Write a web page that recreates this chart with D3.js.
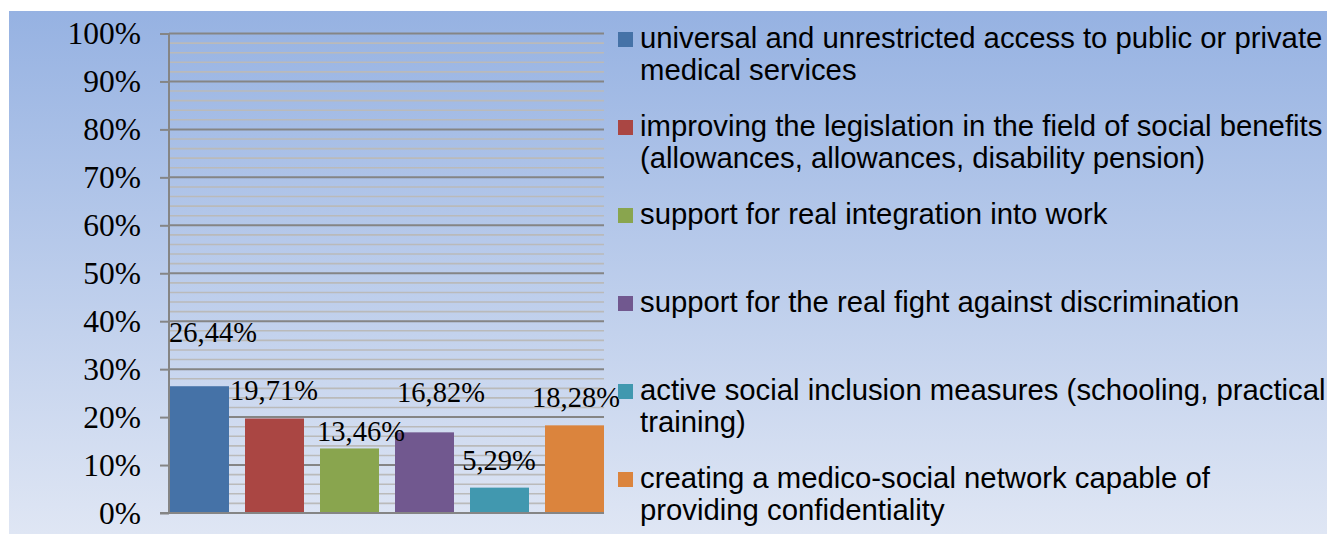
<!DOCTYPE html>
<html>
<head>
<meta charset="utf-8">
<script src="https://cdn.jsdelivr.net/npm/d3@7"></script>
<style>
  body { margin: 0; background: #fff; }
  svg { display: block; }
</style>
</head>
<body>
<div id="main"></div>
<script>
// categories (legend entries), values in %, bar colours
const categories = [
  ["universal and unrestricted access to public or private", "medical services"],
  ["improving the legislation in the field of social benefits", "(allowances, allowances, disability pension)"],
  ["support for real integration into work"],
  ["support for the real fight against discrimination"],
  ["active social inclusion measures (schooling, practical", "training)"],
  ["creating a medico-social network capable of", "providing confidentiality"]
];
const values = [26.44, 19.71, 13.46, 16.82, 5.29, 18.28];
const colors = ["#4572a7", "#aa4643", "#89a54e", "#71588f", "#4198af", "#db843d"];
const yTicks = [0, 10, 20, 30, 40, 50, 60, 70, 80, 90, 100];

// labels were dragged by hand in the original, small nudges from the default spot
const labelNudge = [[14, -26], [0, 0], [12, 11], [17, -12], [0, 0], [2, 0]];

const ctx = {
    width: 1327,
    height: 534,
    left: 169,
    right: 604,
    top: 33.5,
    bottom: 513
};

function createViz() {
    const svg = d3.select("#main").append("svg")
        .attr("width", ctx.width)
        .attr("height", ctx.height);

    // gradient background panel
    const grad = svg.append("defs").append("linearGradient")
        .attr("id", "bg").attr("x1", 0).attr("y1", 0).attr("x2", 0).attr("y2", 1);
    grad.append("stop").attr("offset", "0%").attr("stop-color", "#96b2e2");
    grad.append("stop").attr("offset", "100%").attr("stop-color", "#dfe6f4");

    svg.append("rect")
        .attr("x", 9).attr("y", 11)
        .attr("width", ctx.width - 9).attr("height", ctx.height - 11)
        .attr("fill", "url(#bg)");

    const x = d3.scaleBand()
        .domain(d3.range(values.length))
        .range([ctx.left, ctx.right])
        .paddingInner(0.2)
        .paddingOuter(0);

    const y = d3.scaleLinear()
        .domain([0, 100])
        .range([ctx.bottom, ctx.top]);

    // minor gridlines every 2%
    const minor = d3.range(0, 101, 2).filter(d => d % 10 != 0);
    svg.append("g").selectAll("line")
        .data(minor)
        .enter().append("line")
        .attr("x1", ctx.left).attr("x2", ctx.right)
        .attr("y1", d => y(d)).attr("y2", d => y(d))
        .attr("stroke", "#bababa")
        .attr("stroke-width", 1.6);

    // major gridlines + axis via d3.axisLeft
    const yAxis = svg.append("g")
        .attr("transform", "translate(" + ctx.left + ",0)")
        .call(d3.axisLeft(y)
            .tickValues(yTicks)
            .tickSize(9)
            .tickPadding(19)
            .tickFormat(d => d + "%"));
    yAxis.select(".domain").remove();
    yAxis.selectAll(".tick line")
        .attr("stroke", "#858585")
        .attr("stroke-width", 2);
    yAxis.selectAll(".tick text")
        .attr("fill", "#000")
        .attr("dy", "0.32em")
        .style("font-family", "'Liberation Serif', 'Times New Roman', serif")
        .style("font-size", "31.5px");

    svg.append("g").selectAll("line")
        .data(yTicks.filter(d => d > 0))
        .enter().append("line")
        .attr("x1", ctx.left).attr("x2", ctx.right)
        .attr("y1", d => y(d)).attr("y2", d => y(d))
        .attr("stroke", "#858585")
        .attr("stroke-width", 2);

    // bars
    svg.append("g").selectAll("rect")
        .data(values)
        .enter().append("rect")
        .attr("x", (d, i) => x(i) + 1)
        .attr("width", x.bandwidth() - 1)
        .attr("y", d => y(d))
        .attr("height", d => y(0) - y(d))
        .attr("fill", (d, i) => colors[i]);

    // axis lines
    svg.append("line")
        .attr("x1", ctx.left).attr("x2", ctx.left)
        .attr("y1", ctx.top).attr("y2", ctx.bottom)
        .attr("stroke", "#858585").attr("stroke-width", 2);
    svg.append("line")
        .attr("x1", ctx.left - 9).attr("x2", ctx.right)
        .attr("y1", ctx.bottom).attr("y2", ctx.bottom)
        .attr("stroke", "#858585").attr("stroke-width", 2);

    // data labels
    svg.append("g").selectAll("text")
        .data(values)
        .enter().append("text")
        .attr("x", (d, i) => x(i) + x.bandwidth() / 2 + labelNudge[i][0])
        .attr("y", (d, i) => y(d) - 18 + labelNudge[i][1])
        .attr("text-anchor", "middle")
        .style("font-family", "'Liberation Serif', 'Times New Roman', serif")
        .style("font-size", "28.5px")
        .text(d => d3.format(".2f")(d).replace(".", ",") + "%");

    // legend
    const leg = svg.append("g").selectAll("g")
        .data(categories)
        .enter().append("g")
        .attr("transform", (d, i) => "translate(618," + (48 + i * 88) + ")");

    leg.append("rect")
        .attr("x", 0).attr("y", -16)
        .attr("width", 15).attr("height", 15)
        .attr("fill", (d, i) => colors[i]);

    leg.append("text")
        .style("font-family", "'Liberation Sans', Arial, sans-serif")
        .style("font-size", "29.3px")
        .selectAll("tspan")
        .data(d => d)
        .enter().append("tspan")
        .attr("x", 22)
        .attr("y", (d, j) => j * 32)
        .text(d => d);
}

createViz();
</script>
</body>
</html>
